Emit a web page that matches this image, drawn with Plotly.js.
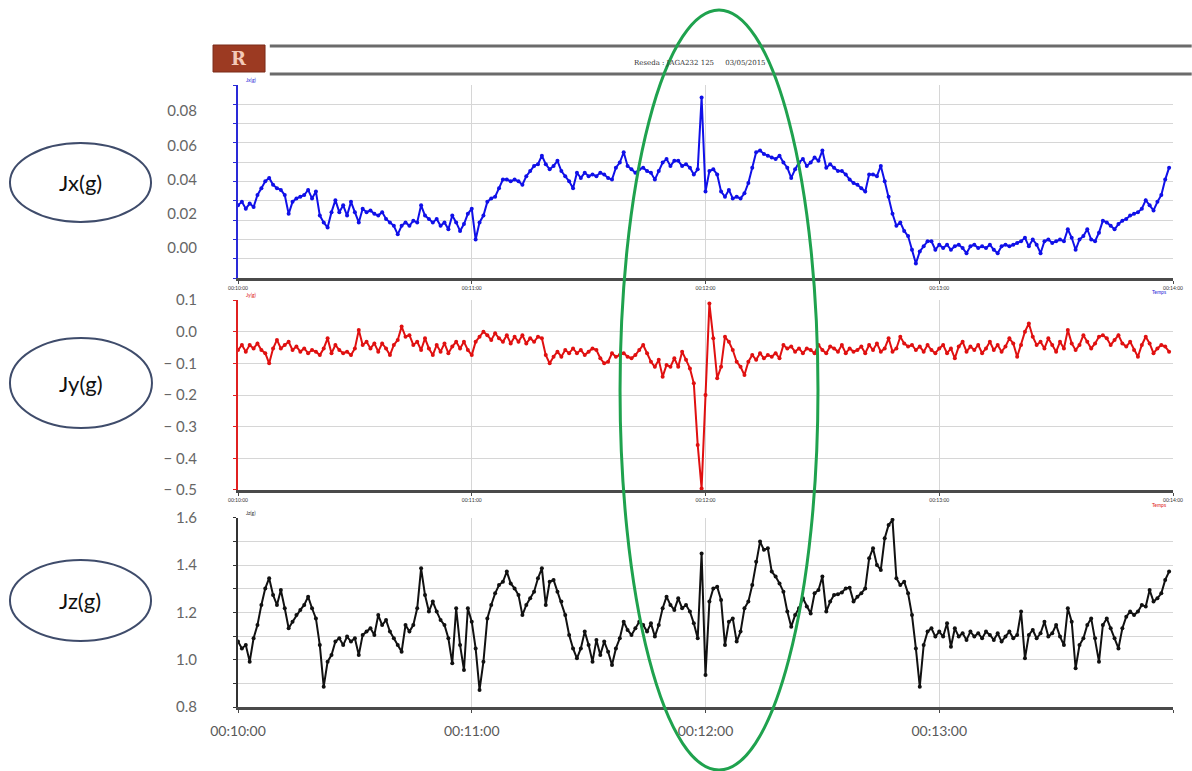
<!DOCTYPE html>
<html>
<head>
<meta charset="utf-8">
<script src="https://cdn.plot.ly/plotly-3.0.1.min.js"></script>
<style>html,body{margin:0;padding:0;background:#fff;}#chart{width:1192px;height:771px;}</style>
</head>
<body>
<div id="chart"></div>
<script>
// ---- data (one sample per second, 00:10:00 -> 00:14:00) ----
const seriesNames = ['Jx(g)', 'Jy(g)', 'Jz(g)'];
const tickSeconds = [0, 60, 120, 180, 240];
const tickLabels = ['00:10:00', '00:11:00', '00:12:00', '00:13:00', 'Temps'];
const tinyTickLabels = ['00:10:00', '00:11:00', '00:12:00', '00:13:00', '00:14:00'];

const Jx = [
0.025,0.027,0.023,0.026,0.024,0.031,0.035,0.039,0.041,0.037,
0.035,0.034,0.031,0.020,0.027,0.029,0.030,0.031,0.034,0.029,
0.033,0.019,0.015,0.012,0.021,0.028,0.021,0.025,0.019,0.027,
0.021,0.015,0.023,0.021,0.022,0.020,0.019,0.021,0.017,0.015,
0.013,0.008,0.013,0.015,0.013,0.016,0.015,0.025,0.019,0.017,
0.015,0.017,0.013,0.015,0.011,0.019,0.015,0.010,0.014,0.020,
0.023,0.005,0.015,0.019,0.027,0.029,0.030,0.035,0.040,0.040,
0.039,0.040,0.039,0.037,0.042,0.045,0.048,0.049,0.054,0.049,
0.046,0.048,0.051,0.045,0.042,0.039,0.035,0.044,0.041,0.044,
0.042,0.043,0.042,0.044,0.043,0.041,0.040,0.047,0.050,0.056,
0.048,0.046,0.044,0.046,0.047,0.045,0.044,0.040,0.045,0.050,
0.052,0.048,0.051,0.051,0.048,0.049,0.047,0.043,0.046,0.088,
0.033,0.045,0.046,0.043,0.033,0.030,0.034,0.029,0.030,0.029,
0.032,0.038,0.047,0.056,0.057,0.055,0.054,0.053,0.052,0.054,
0.050,0.047,0.041,0.046,0.050,0.052,0.048,0.050,0.053,0.051,
0.057,0.047,0.049,0.047,0.045,0.045,0.043,0.040,0.038,0.037,
0.035,0.033,0.043,0.043,0.042,0.048,0.039,0.030,0.020,0.013,
0.015,0.010,0.007,-0.001,-0.009,-0.002,0.001,0.004,0.004,-0.001,
0.002,0.000,0.002,-0.001,0.001,0.002,0.000,-0.003,0.001,0.002,
0.000,0.001,0.000,0.002,-0.001,-0.003,0.001,0.002,0.001,0.002,
0.003,0.004,0.006,0.001,0.005,0.002,-0.003,0.004,0.005,0.003,
0.004,0.005,0.004,0.011,0.006,-0.001,0.005,0.007,0.011,0.005,
0.004,0.009,0.016,0.015,0.013,0.011,0.014,0.016,0.017,0.019,
0.020,0.021,0.023,0.028,0.025,0.022,0.027,0.031,0.040,0.047
];

const Jy = [
-0.058,-0.042,-0.063,-0.042,-0.053,-0.037,-0.058,-0.068,-0.100,-0.053,
-0.026,-0.053,-0.042,-0.032,-0.058,-0.047,-0.063,-0.053,-0.068,-0.058,
-0.063,-0.074,-0.053,-0.021,-0.068,-0.042,-0.058,-0.068,-0.063,-0.074,
-0.053,0.005,-0.042,-0.032,-0.053,-0.037,-0.063,-0.037,-0.053,-0.074,
-0.042,-0.026,0.016,-0.016,-0.011,-0.042,-0.032,-0.058,-0.021,-0.053,
-0.074,-0.042,-0.063,-0.037,-0.068,-0.047,-0.032,-0.053,-0.032,-0.058,
-0.074,-0.032,-0.016,0.000,-0.011,-0.026,-0.005,-0.021,-0.032,-0.011,
-0.037,-0.016,-0.032,-0.011,-0.037,-0.021,-0.032,-0.016,-0.021,-0.074,
-0.100,-0.079,-0.063,-0.079,-0.058,-0.068,-0.053,-0.068,-0.058,-0.074,
-0.063,-0.053,-0.058,-0.084,-0.100,-0.095,-0.068,-0.079,-0.074,-0.068,
-0.079,-0.084,-0.074,-0.058,-0.042,-0.068,-0.095,-0.111,-0.089,-0.142,
-0.105,-0.111,-0.084,-0.111,-0.063,-0.089,-0.116,-0.163,-0.358,-0.495,
-0.200,0.089,-0.021,-0.147,-0.111,-0.016,-0.032,-0.058,-0.095,-0.111,
-0.137,-0.095,-0.074,-0.089,-0.068,-0.084,-0.074,-0.079,-0.068,-0.084,
-0.042,-0.053,-0.047,-0.063,-0.053,-0.068,-0.053,-0.058,-0.068,-0.042,
-0.058,-0.068,-0.047,-0.053,-0.063,-0.042,-0.068,-0.053,-0.063,-0.058,
-0.047,-0.068,-0.042,-0.058,-0.037,-0.063,-0.053,-0.021,-0.063,-0.053,
-0.016,-0.037,-0.047,-0.042,-0.058,-0.047,-0.063,-0.042,-0.058,-0.068,
-0.053,-0.042,-0.068,-0.053,-0.084,-0.047,-0.032,-0.063,-0.047,-0.058,
-0.042,-0.068,-0.053,-0.032,-0.058,-0.042,-0.063,-0.047,-0.021,-0.037,
-0.079,-0.042,0.000,0.026,-0.016,-0.042,-0.032,-0.053,-0.021,-0.042,
-0.063,-0.032,-0.053,0.005,-0.037,-0.058,-0.042,-0.011,-0.032,-0.053,
-0.037,-0.016,-0.011,-0.021,-0.042,-0.026,-0.011,-0.037,-0.047,-0.032,
-0.058,-0.079,-0.042,-0.016,-0.037,-0.068,-0.053,-0.042,-0.047,-0.063
];

const Jz = [
1.077,1.048,1.062,0.992,1.091,1.147,1.232,1.302,1.345,1.274,
1.232,1.295,1.218,1.133,1.161,1.189,1.211,1.232,1.267,1.218,
1.175,1.062,0.886,0.992,1.020,1.077,1.091,1.062,1.098,1.077,
1.091,1.020,1.105,1.119,1.133,1.105,1.189,1.147,1.168,1.119,
1.091,1.062,1.034,1.147,1.119,1.147,1.218,1.387,1.274,1.204,
1.246,1.204,1.168,1.147,1.091,0.985,1.218,1.062,0.957,1.218,
1.161,1.048,0.872,0.992,1.175,1.232,1.281,1.316,1.330,1.373,
1.323,1.302,1.274,1.189,1.232,1.260,1.288,1.345,1.387,1.232,
1.330,1.338,1.288,1.246,1.189,1.105,1.048,1.006,1.048,1.119,
1.062,0.992,1.084,1.020,1.077,1.034,0.978,1.048,1.091,1.161,
1.126,1.105,1.133,1.161,1.147,1.119,1.154,1.098,1.147,1.218,
1.267,1.232,1.211,1.260,1.218,1.232,1.204,1.154,1.091,1.450,
0.935,1.246,1.302,1.309,1.253,1.062,1.161,1.175,1.077,1.119,
1.218,1.246,1.316,1.415,1.500,1.465,1.472,1.373,1.352,1.323,
1.288,1.204,1.140,1.189,1.218,1.260,1.225,1.196,1.281,1.295,
1.352,1.204,1.246,1.274,1.277,1.285,1.302,1.305,1.246,1.267,
1.281,1.302,1.429,1.472,1.401,1.380,1.514,1.570,1.592,1.345,
1.316,1.330,1.281,1.189,1.048,0.886,1.062,1.119,1.133,1.098,
1.119,1.098,1.154,1.055,1.133,1.098,1.112,1.084,1.119,1.098,
1.112,1.091,1.119,1.105,1.084,1.112,1.077,1.098,1.119,1.091,
1.105,1.204,1.006,1.105,1.126,1.091,1.112,1.161,1.098,1.112,
1.147,1.098,1.062,1.218,1.161,0.964,1.062,1.091,1.147,1.175,
1.091,0.992,1.147,1.175,1.133,1.091,1.048,1.133,1.182,1.204,
1.189,1.204,1.232,1.225,1.295,1.246,1.260,1.281,1.338,1.373
];

const jxTicks = [0, 0.02, 0.04, 0.06, 0.08];
const jxTickText = ['0.00', '0.02', '0.04', '0.06', '0.08'];
const jyTicks = [0.1, 0.0, -0.1, -0.2, -0.3, -0.4, -0.5];
const jyTickText = ['0.1', '0.0', '\u2212 0.1', '\u2212 0.2', '\u2212 0.3', '\u2212 0.4', '\u2212 0.5'];
const jzTicks = [0.8, 0.9, 1.0, 1.1, 1.2, 1.3, 1.4, 1.5, 1.6];
const jzTickText = ['0.8', '', '1.0', '', '1.2', '', '1.4', '', '1.6'];

// ---- build ----
const seconds = Jx.map((_, i) => i); // sampling grid, 1 sample / s

function trace(y, xa, ya, color) {
  return {
    x: seconds, y: y, xaxis: xa, yaxis: ya, type: 'scatter', mode: 'lines+markers',
    line: {color: color, width: 2}, marker: {color: color, size: 4},
    hoverinfo: 'skip', showlegend: false
  };
}

const data = [
  trace(Jx, 'x', 'y', '#1010e8'),
  trace(Jy, 'x2', 'y2', '#e01010'),
  trace(Jz, 'x3', 'y3', '#111111')
];

const gridC = '#d6d6d6';
const FAM = 'Lato, "Open Sans", sans-serif';
const labelFont = {family: FAM, size: 15, color: '#666'};

function xaxis(anchor, labels, fontSize) {
  return {
    anchor: anchor, domain: [0, 1], range: [0, 240], tickmode: 'array',
    tickvals: tickSeconds, ticktext: labels, showgrid: true, gridcolor: gridC, gridwidth: 1,
    showline: true, linecolor: '#4a4a4a', linewidth: 3, ticks: 'outside', ticklen: 3,
    tickcolor: '#4a4a4a', zeroline: false, fixedrange: true,
    tickfont: {family: FAM, size: fontSize, color: fontSize > 8 ? '#595959' : '#333'}
  };
}

function label(x, y, text, size, color, extra) {
  return Object.assign({xref: 'paper', yref: 'paper', x: x, y: y, text: text, showarrow: false,
    xanchor: 'center', yanchor: 'middle', font: {family: FAM, size: size, color: color}}, extra || {});
}

// domains from pixel layout (plot area 85..707 px)
const layout = {
  width: 1192, height: 771,
  margin: {l: 238, r: 19, t: 85, b: 64},
  paper_bgcolor: '#ffffff', plot_bgcolor: '#ffffff',
  showlegend: false,
  xaxis: xaxis('y', tinyTickLabels, 5),
  xaxis2: xaxis('y2', tinyTickLabels, 5),
  xaxis3: Object.assign(xaxis('y3', tickLabels, 14), {ticklabelstandoff: 6}),
  yaxis: {
    anchor: 'x', domain: [0.6897, 1], range: [-0.0175, 0.0953], tickmode: 'array',
    tickvals: jxTicks, ticktext: jxTickText, showgrid: false, zeroline: false,
    showline: true, linecolor: '#2a2ad8', linewidth: 2, ticks: '', tickfont: labelFont,
    ticklabelstandoff: 36,
    minor: {tickmode: 'linear', tick0: -0.0175, dtick: 0.011275, showgrid: true,
            gridcolor: gridC, gridwidth: 1, ticks: 'outside', ticklen: 3, tickcolor: '#2a2ad8'}
  },
  yaxis2: {
    anchor: 'x2', domain: [0.3489, 0.6543], range: [-0.5, 0.1], tickmode: 'array',
    tickvals: jyTicks, ticktext: jyTickText, showgrid: true, gridcolor: gridC, zeroline: false,
    showline: true, linecolor: '#e02020', linewidth: 2, ticks: 'outside', ticklen: 3,
    tickcolor: '#e02020', tickfont: labelFont, ticklabelstandoff: 33
  },
  yaxis3: {
    anchor: 'x3', domain: [0, 0.3039], range: [0.8, 1.6], tickmode: 'array',
    tickvals: jzTicks, ticktext: jzTickText, showgrid: true, gridcolor: gridC, zeroline: false,
    showline: true, linecolor: '#333', linewidth: 2, ticks: 'outside', ticklen: 3,
    tickcolor: '#333', tickfont: labelFont, ticklabelstandoff: 33
  },
  shapes: [
    // header rules
    {type: 'line', xref: 'paper', yref: 'paper', x0: 0.034, x1: 1.02, y0: 1.0627, y1: 1.0627,
     line: {color: '#6b6b6b', width: 3}},
    {type: 'line', xref: 'paper', yref: 'paper', x0: 0.034, x1: 1.02, y0: 1.0177, y1: 1.0177,
     line: {color: '#6b6b6b', width: 3}},
    // logo box
    {type: 'rect', xref: 'paper', yref: 'paper', x0: -0.0267, x1: 0.0289, y0: 1.0209, y1: 1.0643,
     fillcolor: '#9c3a22', line: {color: '#7a2a18', width: 1}},
    // series label ellipses
    {type: 'circle', xref: 'paper', yref: 'paper', x0: -0.2439, x1: -0.0930, y0: 0.7797, y1: 0.9068,
     fillcolor: '#ffffff', line: {color: '#3f4c6b', width: 2}},
    {type: 'circle', xref: 'paper', yref: 'paper', x0: -0.2439, x1: -0.0920, y0: 0.4486, y1: 0.5932,
     fillcolor: '#ffffff', line: {color: '#3f4c6b', width: 2}},
    {type: 'circle', xref: 'paper', yref: 'paper', x0: -0.2439, x1: -0.0930, y0: 0.1061, y1: 0.2363,
     fillcolor: '#ffffff', line: {color: '#3f4c6b', width: 2}},
    // highlight ellipse around the event
    {type: 'circle', xref: 'paper', yref: 'paper', x0: 0.4086, x1: 0.6203, y0: -0.1013, y1: 1.1206,
     line: {color: '#1fa24e', width: 3}, layer: 'above'}
  ],
  annotations: [
    label(-0.1685, 0.8433, seriesNames[0], 22, '#111'),
    label(-0.1680, 0.5209, seriesNames[1], 22, '#111'),
    label(-0.1685, 0.1712, seriesNames[2], 22, '#111'),
    label(0.001, 1.0426, '<b>R</b>', 18, '#5a1408', {font: {family: 'DejaVu Serif, serif', size: 18, color: '#f3c9b8'}}),
    label(0.494, 1.0354, 'Reseda : JAGA232 125     03/05/2015', 7, '#333', {font: {family: 'DejaVu Serif, serif', size: 7, color: '#333'}}),
    label(0.985, 0.667, 'Temps', 5, '#2a2ad8'),
    label(0.985, 0.324, 'Temps', 5, '#e02020'),
    label(0.006, 1.0, 'Jx(g)', 5, '#2a2ad8', {xanchor: 'left', yanchor: 'bottom'}),
    label(0.006, 0.6543, 'Jy(g)', 5, '#e02020', {xanchor: 'left', yanchor: 'bottom'}),
    label(0.006, 0.3039, 'Jz(g)', 5, '#333', {xanchor: 'left', yanchor: 'bottom'})
  ]
};

Plotly.newPlot('chart', data, layout, {staticPlot: true, displayModeBar: false});
</script>
</body>
</html>
